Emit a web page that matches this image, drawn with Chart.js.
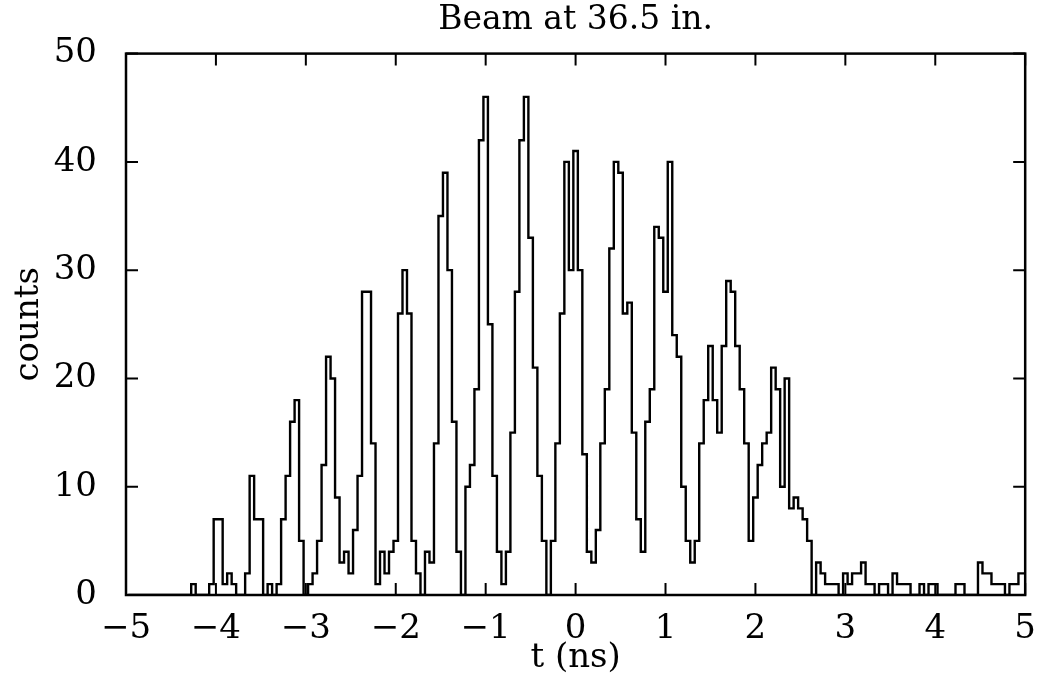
<!DOCTYPE html>
<html>
<head>
<meta charset="utf-8">
<script src="https://cdn.jsdelivr.net/npm/chart.js@4.4.0/dist/chart.umd.min.js"></script>
<style>
  body { margin: 0; background: #fff; }
  #wrap { width: 1050px; height: 676px; }
</style>
</head>
<body>
<div id="wrap"><canvas id="beamChart" width="1050" height="676"></canvas></div>
<script>
// histogram of arrival times, 0.05 ns bins
const binStart = -4.975;
const binWidth = 0.05;
const counts = [
  0, 0, 0, 0, 0, 0, 0, 0, 0, 0, 0, 0, 0, 0, 1, 0, 0, 0, 1, 7,
  7, 1, 2, 1, 0, 0, 2, 11, 7, 7, 0, 1, 0, 1, 7, 11, 16, 18, 5, 0,
  1, 2, 5, 12, 22, 20, 9, 3, 4, 2, 6, 11, 28, 28, 14, 1, 4, 2, 4, 5,
  26, 30, 26, 5, 2, 0, 4, 3, 14, 35, 39, 30, 16, 4, 0, 10, 12, 19, 42, 46,
  25, 11, 4, 1, 4, 15, 28, 42, 46, 33, 21, 11, 5, 0, 5, 14, 26, 40, 30, 41,
  30, 13, 4, 3, 6, 14, 19, 32, 40, 39, 26, 27, 15, 7, 4, 16, 19, 34, 33, 28,
  40, 24, 22, 10, 5, 3, 5, 14, 18, 23, 18, 15, 23, 29, 28, 23, 19, 14, 5, 9,
  12, 14, 15, 21, 19, 10, 20, 8, 9, 8, 7, 5, 0, 3, 2, 1, 1, 1, 0, 2,
  1, 2, 2, 3, 1, 1, 0, 1, 1, 0, 2, 1, 1, 1, 0, 0, 1, 0, 1, 1,
  0, 0, 0, 0, 1, 1, 0, 0, 0, 3, 2, 2, 1, 1, 1, 0, 1, 1, 2, 2
];
const xTicks = [-5, -4, -3, -2, -1, 0, 1, 2, 3, 4, 5];
const yTicks = [0, 10, 20, 30, 40, 50];

const FONT = 'DejaVu Serif';

// one point per left bin edge, plus the closing right edge
const points = counts.map((c, i) => ({ x: binStart + i * binWidth, y: c }));
points.push({ x: binStart + counts.length * binWidth, y: counts[counts.length - 1] });

// frame with inward ticks on all four sides
const frameTicks = {
  id: 'frameTicks',
  afterDraw(chart) {
    const { ctx, chartArea: a, scales: { x, y } } = chart;
    ctx.save();
    ctx.strokeStyle = '#000';
    ctx.lineWidth = 2.5;
    ctx.strokeRect(a.left, a.top, a.right - a.left, a.bottom - a.top);
    ctx.lineWidth = 2;
    ctx.beginPath();
    x.ticks.forEach(t => {
      const px = x.getPixelForValue(t.value);
      ctx.moveTo(px, a.bottom); ctx.lineTo(px, a.bottom - 12);
      ctx.moveTo(px, a.top); ctx.lineTo(px, a.top + 12);
    });
    y.ticks.forEach(t => {
      const py = y.getPixelForValue(t.value);
      ctx.moveTo(a.left, py); ctx.lineTo(a.left + 12, py);
      ctx.moveTo(a.right, py); ctx.lineTo(a.right - 12, py);
    });
    ctx.stroke();
    ctx.restore();
  }
};

new Chart(document.getElementById('beamChart'), {
  type: 'line',
  data: {
    datasets: [{
      data: points,
      borderColor: '#000',
      borderWidth: 2.4,
      stepped: true,
      pointRadius: 0,
      fill: false,
      tension: 0
    }]
  },
  options: {
    responsive: false,
    animation: false,
    layout: { padding: { left: 0, right: 6, top: 0, bottom: 0 } },
    plugins: {
      legend: { display: false },
      tooltip: { enabled: false },
      title: {
        display: true,
        text: 'Beam at 36.5 in.',
        color: '#000',
        fullSize: false,
        font: { family: FONT, size: 33, weight: 'normal' },
        padding: { top: 1, bottom: 13 }
      }
    },
    scales: {
      x: {
        type: 'linear',
        min: -5,
        max: 5,
        afterBuildTicks: s => { s.ticks = xTicks.map(v => ({ value: v })); },
        afterFit: s => { s.height = 81; },
        grid: { display: false, drawTicks: false },
        border: { display: false },
        ticks: {
          color: '#000',
          padding: 14,
          maxRotation: 0,
          font: { family: FONT, size: 34 },
          callback: v => String(v).replace('-', '\u2212')
        },
        title: {
          display: true,
          text: 't (ns)',
          color: '#000',
          font: { family: FONT, size: 34, lineHeight: 1 },
          padding: { top: 0, bottom: 1 }
        }
      },
      y: {
        min: 0,
        max: 50,
        afterBuildTicks: s => { s.ticks = yTicks.map(v => ({ value: v })); },
        afterFit: s => { s.width = 126; },
        grid: { display: false, drawTicks: false },
        border: { display: false },
        ticks: {
          color: '#000',
          padding: 29,
          font: { family: FONT, size: 34 }
        },
        title: {
          display: true,
          text: 'counts',
          color: '#000',
          font: { family: FONT, size: 34, lineHeight: 1 },
          padding: { top: 12, bottom: 0 }
        }
      }
    }
  },
  plugins: [frameTicks]
});
</script>
</body>
</html>
